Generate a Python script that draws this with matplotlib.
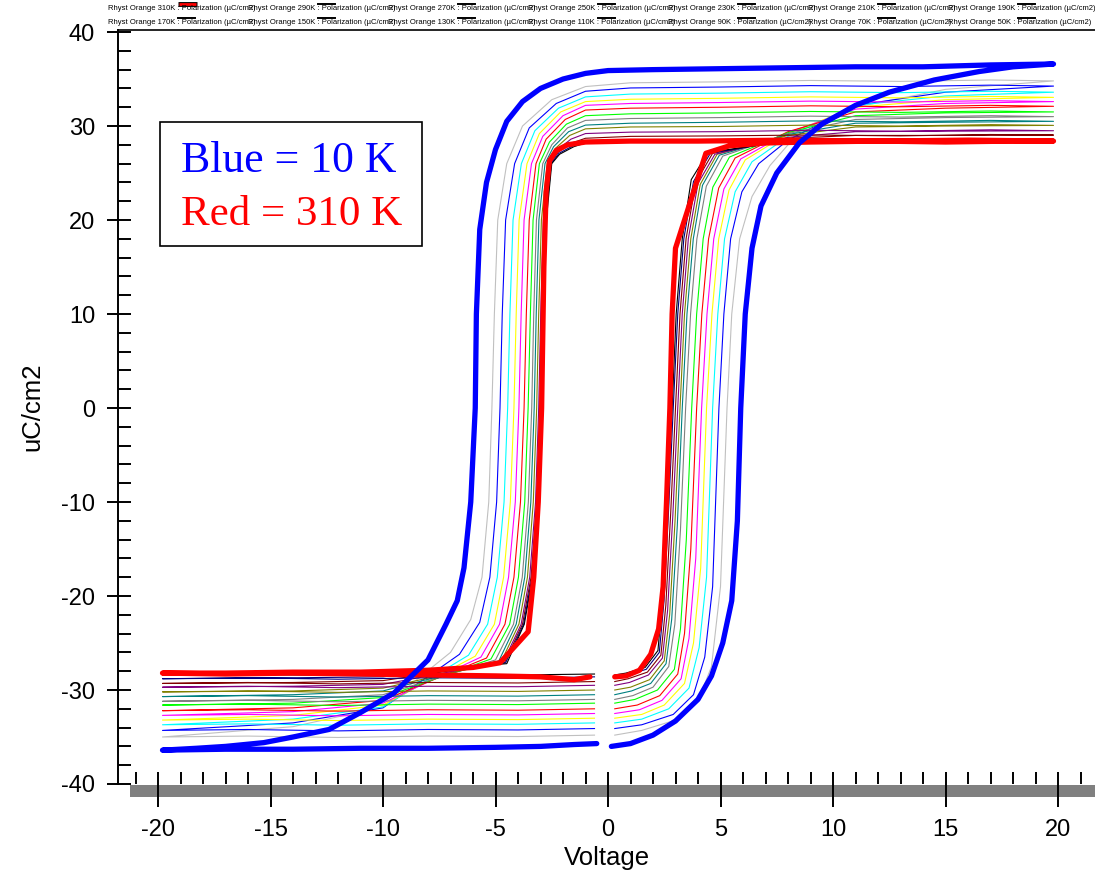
import matplotlib
matplotlib.use('Agg')
import matplotlib.pyplot as plt
import numpy as np
from matplotlib.ticker import MultipleLocator
from matplotlib.patches import Rectangle

plt.rcParams['font.family'] = ['Liberation Sans', 'DejaVu Sans']
plt.rcParams['axes.unicode_minus'] = False

# hysteresis loops (voltage, polarization), in drawing order
loop_10 = [(0.15,-36.0),(1.0,-35.7),(2.0,-34.8),(3.0,-33.3),(4.0,-31.0),(4.6,-28.5),(5.1,-25.0),(5.5,-20.5),(5.75,-12),(5.9,0),
           (6.1,10),(6.4,17),(6.8,21.5),(7.5,25),(8.5,28.2),(9.5,30.2),(11,32.2),(12.5,33.6),(14.5,34.9),(16.5,35.8),(18,36.3),(19.8,36.6),
           (17,36.5),(14,36.3),(11,36.3),(8,36.2),(5,36.1),(2,36.0),(0,35.9),
           (-1,35.6),(-2,35.0),(-3,34.0),(-3.8,32.6),(-4.5,30.5),(-5.0,27.5),(-5.4,24),(-5.7,19),(-5.85,10),(-5.9,0),(-6.1,-10),
           (-6.4,-17),(-6.7,-20.5),(-7.2,-23),(-8.0,-26.8),(-9.5,-30.3),(-11,-32.4),(-12.4,-34.2),(-14,-35.0),(-15.3,-35.6),(-17,-36.0),
           (-18.3,-36.2),(-19.8,-36.4),
           (-17,-36.3),(-14,-36.3),(-11,-36.2),(-8,-36.2),(-5,-36.1),(-3,-36.0),(-1.5,-35.8),(-0.5,-35.7)]
loop_30 = [(0.3,-34.8),(1.5,-34.3),(3.0,-33.2),(4.0,-31.2),(4.6,-27.5),(5.0,-19),(5.29,0),(5.5,10),(5.85,18),(6.4,22.5),(7.2,25.8),
           (8.0,28.0),(11,32.0),(15,33.9),(19.8,34.8),
           (17,34.9),(13,34.75),(9,34.85),(5,34.7),(1,34.6),
           (-1.0,34.2),(-2.5,32.8),(-3.8,30.0),(-4.5,26.0),(-4.9,20),(-5.05,10),(-5.16,0),(-5.3,-10),(-5.6,-18),(-6.1,-22.5),
           (-7.0,-26.0),(-10,-31.8),(-14,-33.9),(-19.8,-35.0),
           (-16,-34.9),(-12,-35.05),(-8,-34.9),(-4,-34.95),(-0.6,-34.8)]
loop_50 = [(0.3,-34.1),(1.5,-33.7),(2.9,-32.6),(3.8,-30.5),(4.3,-26.5),(4.65,-19),(4.93,0),(5.15,10),(5.45,18),(5.95,23),(6.7,26.0),
           (8.0,28.5),(11,32.2),(15,33.6),(19.8,34.25),
           (17,34.35),(13,34.2),(9,34.3),(5,34.15),(1,34.05),
           (-1.0,33.7),(-2.3,32.4),(-3.5,29.8),(-4.15,26),(-4.55,20),(-4.7,10),(-4.8,0),(-4.95,-10),(-5.25,-18),(-5.7,-22.8),
           (-6.6,-26.2),(-10,-31.9),(-14,-33.5),(-19.8,-34.3),
           (-16,-34.2),(-12,-34.35),(-8,-34.2),(-4,-34.25),(-0.6,-34.1)]
loop_70 = [(0.3,-33.5),(1.5,-33.1),(2.7,-32.0),(3.6,-29.8),(4.05,-25.5),(4.38,-18),(4.65,0),(4.88,10),(5.18,18),(5.65,23),(6.4,26.2),
           (8.0,28.9),(11,32.2),(15,33.2),(19.8,33.6),
           (17,33.7),(13,33.55),(9,33.65),(5,33.5),(1,33.4),
           (-1.0,33.1),(-2.2,31.9),(-3.25,29.5),(-3.85,26),(-4.22,20),(-4.36,10),(-4.46,0),(-4.62,-10),(-4.92,-18),(-5.35,-23),
           (-6.2,-26.3),(-10,-31.8),(-14,-33.1),(-19.8,-33.7),
           (-16,-33.6),(-12,-33.75),(-8,-33.6),(-4,-33.65),(-0.6,-33.5)]
loop_90 = [(0.3,-33.0),(1.5,-32.6),(2.5,-31.6),(3.4,-29.3),(3.8,-25),(4.12,-17),(4.38,0),(4.62,10),(4.92,18),(5.38,23.2),(6.1,26.4),
           (8.0,29.2),(11,32.0),(15,32.8),(19.8,33.05),
           (17,33.15),(13,33.0),(9,33.1),(5,32.95),(1,32.85),
           (-1.0,32.6),(-2.1,31.5),(-3.05,29.2),(-3.6,26),(-3.95,20),(-4.08,10),(-4.18,0),(-4.34,-10),(-4.64,-18),(-5.05,-23),
           (-5.9,-26.4),(-10,-31.6),(-14,-32.7),(-19.8,-33.2),
           (-16,-33.1),(-12,-33.25),(-8,-33.1),(-4,-33.15),(-0.6,-33.0)]
loop_110 = [(0.3,-32.5),(1.4,-32.1),(2.4,-31.1),(3.25,-28.8),(3.6,-24.5),(3.9,-16),(4.16,0),(4.4,10),(4.7,18),(5.15,23.3),(5.9,26.5),
            (8.0,29.3),(11,31.8),(15,32.4),(19.8,32.6),
            (17,32.7),(13,32.55),(9,32.65),(5,32.5),(1,32.4),
            (-1.0,32.2),(-2.0,31.1),(-2.9,28.9),(-3.4,26),(-3.73,20),(-3.86,10),(-3.96,0),(-4.12,-10),(-4.42,-18),(-4.82,-23),
            (-5.65,-26.5),(-10,-31.4),(-14,-32.3),(-19.8,-32.7),
            (-16,-32.6),(-12,-32.75),(-8,-32.6),(-4,-32.65),(-0.6,-32.5)]
loop_130 = [(0.3,-32.0),(1.3,-31.6),(2.3,-30.6),(3.1,-28.3),(3.4,-24),(3.68,-15),(3.94,0),(4.17,10),(4.47,18),(4.92,23.4),(5.65,26.6),
            (8.0,29.4),(11,31.5),(15,31.9),(19.8,32.1),
            (17,32.2),(13,32.05),(9,32.15),(5,32.0),(1,31.9),
            (-1.0,31.7),(-1.9,30.7),(-2.75,28.6),(-3.2,26),(-3.5,20),(-3.63,10),(-3.73,0),(-3.89,-10),(-4.18,-18),(-4.58,-23),
            (-5.4,-26.6),(-10,-31.1),(-14,-31.9),(-19.8,-32.2),
            (-16,-32.1),(-12,-32.25),(-8,-32.1),(-4,-32.15),(-0.6,-32.0)]
loop_150 = [(0.3,-31.4),(1.2,-31.0),(2.2,-30.0),(2.95,-27.8),(3.22,-23.5),(3.48,-14),(3.72,0),(3.94,10),(4.23,18),(4.66,23.5),(5.4,26.7),
            (8.0,29.3),(11,31.1),(15,31.4),(19.8,31.5),
            (17,31.6),(13,31.45),(9,31.55),(5,31.4),(1,31.3),
            (-1.0,31.1),(-1.85,30.2),(-2.6,28.3),(-3.05,26),(-3.33,20),(-3.45,10),(-3.55,0),(-3.7,-10),(-3.98,-18),(-4.37,-23),
            (-5.2,-26.7),(-10,-30.8),(-14,-31.4),(-19.8,-31.6),
            (-16,-31.5),(-12,-31.65),(-8,-31.5),(-4,-31.55),(-0.6,-31.4)]
loop_170 = [(0.3,-31.0),(1.1,-30.6),(2.0,-29.7),(2.7,-27.5),(2.97,-23),(3.22,-13),(3.45,0),(3.67,10),(3.95,18),(4.37,23.6),(5.1,26.8),
            (8.0,29.2),(11,30.7),(15,30.9),(19.8,31.0),
            (17,31.1),(13,30.95),(9,31.05),(5,30.9),(1,30.8),
            (-1.0,30.6),(-1.8,29.8),(-2.5,28.0),(-2.9,26),(-3.18,20),(-3.3,10),(-3.39,0),(-3.54,-10),(-3.81,-18),(-4.2,-23),
            (-5.0,-26.8),(-10,-30.5),(-14,-31.0),(-19.8,-31.2),
            (-16,-31.1),(-12,-31.25),(-8,-31.1),(-4,-31.15),(-0.6,-31.0)]
loop_190 = [(0.3,-30.5),(1.05,-30.1),(1.9,-29.3),(2.58,-27.2),(2.83,-22.5),(3.08,-12.5),(3.3,0),(3.51,10),(3.79,18),(4.2,23.7),(4.95,26.9),
            (8.0,29.1),(11,30.3),(15,30.4),(19.8,30.5),
            (17,30.6),(13,30.45),(9,30.55),(5,30.4),(1,30.3),
            (-1.0,30.1),(-1.75,29.4),(-2.42,27.8),(-2.8,26),(-3.07,20),(-3.19,10),(-3.28,0),(-3.43,-10),(-3.7,-18),(-4.08,-23),
            (-4.85,-26.9),(-10,-30.1),(-14,-30.5),(-19.8,-30.7),
            (-16,-30.6),(-12,-30.75),(-8,-30.6),(-4,-30.65),(-0.6,-30.5)]
loop_210 = [(0.3,-30.0),(1.0,-29.7),(1.85,-28.9),(2.5,-26.9),(2.74,-22),(2.98,-12),(3.2,0),(3.4,10),(3.68,18),(4.1,23.8),(4.85,27.0),
            (8.0,29.0),(11,29.9),(15,30.0),(19.8,30.07),
            (17,30.15),(13,30.0),(9,30.1),(5,29.95),(1,29.9),
            (-1.0,29.7),(-1.7,29.0),(-2.35,27.6),(-2.7,26),(-2.96,20),(-3.08,10),(-3.17,0),(-3.32,-10),(-3.58,-18),(-3.96,-23),
            (-4.75,-27.0),(-10,-29.8),(-14,-30.1),(-19.8,-30.2),
            (-16,-30.1),(-12,-30.25),(-8,-30.1),(-4,-30.15),(-0.6,-30.0)]
loop_230 = [(0.3,-29.5),(0.95,-29.2),(1.8,-28.4),(2.42,-26.6),(2.65,-21.5),(2.88,-11.5),(3.1,0),(3.3,10),(3.57,18),(4.0,23.9),(4.75,27.0),
            (8.0,28.8),(11,29.4),(15,29.45),(19.8,29.5),
            (17,29.6),(13,29.45),(9,29.55),(5,29.4),(1,29.35),
            (-1.0,29.2),(-1.65,28.6),(-2.28,27.4),(-2.62,26),(-2.87,20),(-2.99,10),(-3.08,0),(-3.22,-10),(-3.48,-18),(-3.86,-23),
            (-4.65,-27.0),(-10,-29.4),(-14,-29.6),(-19.8,-29.7),
            (-16,-29.6),(-12,-29.75),(-8,-29.6),(-4,-29.65),(-0.6,-29.5)]
loop_250 = [(0.3,-29.1),(0.9,-28.8),(1.75,-28.1),(2.35,-26.3),(2.57,-21),(2.79,-11),(3.0,0),(3.2,10),(3.47,18),(3.9,24),(4.65,27.1),
            (8.0,28.7),(11,29.0),(15,29.0),(19.8,29.04),
            (17,29.1),(13,28.95),(9,29.05),(5,28.95),(1,28.9),
            (-1.0,28.7),(-1.6,28.2),(-2.22,27.2),(-2.56,26),(-2.81,20),(-2.93,10),(-3.02,0),(-3.16,-10),(-3.42,-18),(-3.8,-23),
            (-4.6,-27.1),(-10,-29.0),(-14,-29.2),(-19.8,-29.3),
            (-16,-29.2),(-12,-29.35),(-8,-29.2),(-4,-29.25),(-0.6,-29.1)]
loop_270 = [(0.3,-28.7),(0.85,-28.4),(1.7,-27.8),(2.28,-26.0),(2.49,-20.5),(2.7,-10.5),(2.9,0),(3.1,10),(3.37,18),(3.8,24.1),(4.55,27.1),
            (8.0,28.5),(11,28.6),(15,28.55),(19.8,28.6),
            (17,28.65),(13,28.55),(9,28.65),(5,28.5),(1,28.45),
            (-1.0,28.3),(-1.55,27.9),(-2.18,27.1),(-2.52,26),(-2.77,20),(-2.89,10),(-2.98,0),(-3.12,-10),(-3.38,-18),(-3.75,-23),
            (-4.55,-27.1),(-10,-28.6),(-14,-28.7),(-19.8,-28.8),
            (-16,-28.7),(-12,-28.85),(-8,-28.7),(-4,-28.75),(-0.6,-28.6)]
loop_290 = [(0.3,-28.4),(0.8,-28.2),(1.65,-27.6),(2.22,-25.8),(2.43,-20),(2.64,-10),(2.85,0),(3.03,10),(3.3,18),(3.7,24.3),(4.45,27.2),
            (8.0,28.4),(11,28.45),(15,28.45),(19.8,28.5),
            (17,28.55),(13,28.45),(9,28.5),(5,28.45),(1,28.4),
            (-1.0,28.2),(-1.52,27.8),(-2.15,27.0),(-2.5,26),(-2.74,20),(-2.86,10),(-2.95,0),(-3.1,-10),(-3.35,-18),(-3.72,-23),
            (-4.5,-27.2),(-10,-28.2),(-14,-28.3),(-19.8,-28.4),
            (-16,-28.35),(-12,-28.45),(-8,-28.35),(-4,-28.4),(-0.6,-28.3)]
loop_310 = [(0.3,-28.6),(0.8,-28.5),(1.4,-27.9),(1.9,-26.2),(2.25,-23.5),(2.45,-19),(2.6,-10),(2.75,0),(2.85,10),(3.0,17),
            (4.35,27.1),(5.4,27.9),(7,28.2),(9,28.3),(12,28.4),(15,28.3),(18,28.4),(19.8,28.4),
            (16,28.5),(12,28.4),(8,28.5),(4,28.4),(1,28.4),(-1,28.3),
            (-1.8,28.0),(-2.3,27.4),(-2.6,26.3),(-2.75,23),(-2.85,15),(-2.95,0),(-3.1,-10),(-3.3,-18),(-3.55,-23.8),(-4.8,-27.1),
            (-6,-27.6),(-8,-27.9),(-11,-28.1),(-14,-28.1),(-17,-28.2),(-19.8,-28.2),
            (-17,-28.3),(-14,-28.2),(-11,-28.3),(-8,-28.4),(-5,-28.5),(-3,-28.6),(-1.5,-28.9),(-0.8,-28.6)]

thin_temps = [30, 50, 70, 90, 110, 130, 150, 170, 190, 210, 230, 250, 270, 290]
thin_loops = [loop_30, loop_50, loop_70, loop_90, loop_110, loop_130, loop_150,
              loop_170, loop_190, loop_210, loop_230, loop_250, loop_270, loop_290]
thin_colors = ['#c0c0c0', '#0000ff', '#00ffff', '#ffff00', '#ff00ff', '#ff0000', '#00ff00',
               '#808080', '#008080', '#808000', '#800080', '#800000', '#000080', '#000000']

legend_row1 = [310, 290, 270, 250, 230, 210, 190]
legend_row2 = [170, 150, 130, 110, 90, 70, 50]

W, H = 1095, 873
fig = plt.figure(figsize=(W / 100, H / 100), dpi=100)
ax = fig.add_axes([118 / W, 89 / H, (W - 118) / W, (784 - 29.5) / H])

for loop, col in zip(thin_loops, thin_colors):
    v, p = np.array(loop).T
    ax.plot(v, p, color=col, lw=0.8, zorder=2)

v, p = np.array(loop_310).T
ax.plot(v, p, color='#ff0000', lw=3.8, zorder=3, solid_joinstyle='round', solid_capstyle='round')
v, p = np.array(loop_10).T
ax.plot(v, p, color='#0000ff', lw=3.8, zorder=4, solid_joinstyle='round', solid_capstyle='round')

ax.set_xlim((118 - 608) / 22.5, (W - 608) / 22.5)
ax.set_ylim(-40, 40.27)

ax.spines['right'].set_visible(False)
ax.spines['bottom'].set_visible(False)
ax.spines['left'].set_linewidth(1.4)
ax.spines['top'].set_linewidth(1.2)

ax.xaxis.set_major_locator(MultipleLocator(5))
ax.xaxis.set_minor_locator(MultipleLocator(1))
ax.yaxis.set_major_locator(MultipleLocator(10))
ax.yaxis.set_minor_locator(MultipleLocator(2))
ax.xaxis.remove_overlapping_locs = False
ax.yaxis.remove_overlapping_locs = False
ax.tick_params(axis='x', which='major', direction='out', length=16.5, width=1.4, pad=9, labelsize=17)
ax.tick_params(axis='x', which='minor', direction='in', length=8.6, width=1.4)
ax.tick_params(axis='y', which='major', direction='out', length=8, width=1.4, pad=8.5, labelsize=17)
ax.tick_params(axis='y', which='minor', direction='in', length=9.4, width=1.4)
ax.tick_params(top=False, right=False, which='both')

ax.set_xlabel('Voltage', fontsize=18.5, labelpad=3)
ax.set_ylabel('uC/cm2', fontsize=18.5, labelpad=12)

# grey band under the x axis
fig.patches.append(Rectangle((130 / W, 1 - 797 / H), (W - 130) / W, 12 / H,
                             transform=fig.transFigure, facecolor='#808080', edgecolor='none', zorder=-1))

# annotation box
fig.patches.append(Rectangle((160 / W, 1 - 246 / H), 262 / W, 124 / H, transform=fig.transFigure,
                             facecolor='white', edgecolor='black', lw=1.2, zorder=5))
fig.text(181 / W, 1 - 172 / H, 'Blue = 10 K', color='#0000ff', fontsize=31.5,
         family='Liberation Serif', va='baseline', zorder=6)
fig.text(181 / W, 1 - 225 / H, 'Red = 310 K', color='#ff0000', fontsize=31,
         family='Liberation Serif', va='baseline', zorder=6)

# legend strip at the top
for temps, ty, ly in [(legend_row1, 8, 3.5), (legend_row2, 23, 17.5)]:
    for i, t in enumerate(temps):
        x0 = 108 + 140 * i
        fig.text(x0 / W, 1 - ty / H, 'Rhyst Orange %dK : Polarization (\u00b5C/cm2)' % t,
                 fontsize=5.5, va='center', ha='left')
        d0 = x0 + 70
        if t == 310:
            fig.lines.append(plt.Line2D([d0 / W, (d0 + 19) / W], [1 - ly / H] * 2, transform=fig.transFigure,
                                        color='black', lw=3.5, solid_capstyle='butt'))
            fig.lines.append(plt.Line2D([(d0 + 1) / W, (d0 + 18) / W], [1 - ly / H] * 2, transform=fig.transFigure,
                                        color='#ff0000', lw=2.0, solid_capstyle='butt'))
        else:
            fig.lines.append(plt.Line2D([d0 / W, (d0 + 17) / W], [1 - ly / H] * 2,
                                        transform=fig.transFigure, color='black', lw=1.4))

fig.savefig('out.png', dpi=100, facecolor='white')
